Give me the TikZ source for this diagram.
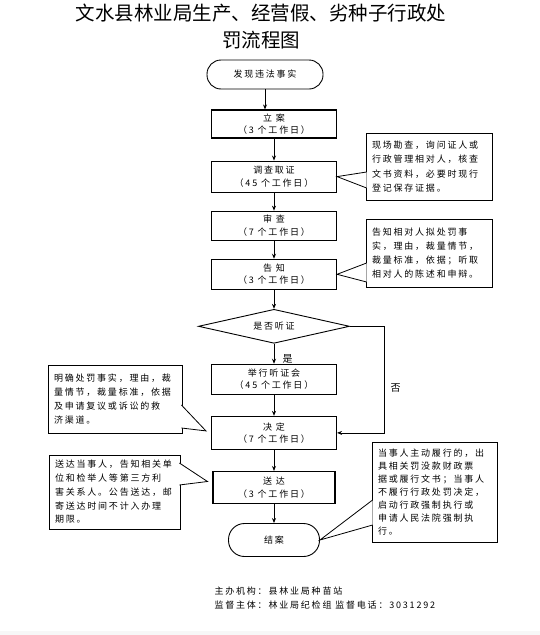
\documentclass[tikz,border=0pt]{standalone}
\usepackage{fontspec}
\setmainfont{Noto Sans CJK SC}
\newfontfamily\spaced[LetterSpace=20]{Noto Sans CJK SC}
\usepackage{tikz}
\usetikzlibrary{arrows.meta,positioning,calc,shapes.geometric,shadows}
\definecolor{ink}{HTML}{000000}
\definecolor{inksoft}{HTML}{505050}
\definecolor{pagebd}{HTML}{F7F7F7}
\tikzset{
  stepbox/.style={rectangle,draw=ink,line width=1.1pt,fill=white,text=ink,align=center,
    font=\spaced\fontsize{9}{12.5}\selectfont,
    minimum width=125pt,minimum height=30pt,inner sep=2pt},
  endbox/.style={stepbox,line width=0.9pt},
  askbox/.style={diamond,draw=ink,line width=0.9pt,fill=white,text=ink,aspect=4.4,
    minimum width=151pt,minimum height=34pt,inner sep=0pt,
    font=\spaced\fontsize{9}{12.5}\selectfont},
  notebox/.style={rectangle,draw=ink,line width=0.8pt,fill=white,text=ink,align=left,
    font=\spaced\fontsize{9}{14}\selectfont,inner xsep=6pt,inner ysep=4pt,
    drop shadow={shadow xshift=1.2pt,shadow yshift=-1.2pt,fill=inksoft,opacity=1}},
  notetip/.style={draw=ink,line width=0.8pt,fill=white},
  flowarr/.style={-{Stealth[length=5pt,width=4pt]},line width=0.8pt,color=ink},
  flowlabel/.style={font=\fontsize{10}{12}\selectfont,text=ink},
}

\begin{document}
\begin{tikzpicture}[x=1pt,y=-1pt,node distance=20pt]
  \useasboundingbox (0,0) rectangle (540,635);
  \fill[pagebd] (0,631) rectangle (540,635);

  \node[font=\fontsize{19.5}{27}\selectfont,align=center] (title) at (261,26.5)
    {文水县林业局生产、经营假、劣种子行政处\\罚流程图};

  \node[endbox,minimum width=116pt,minimum height=29pt,rounded corners=14pt] (found) at (265,74.5) {发现违法事实};
  \node[stepbox,minimum height=28pt,below=20pt of found,xshift=9pt] (filing) {立\ 案\\（3 个工作日）};
  \node[stepbox,minimum height=31pt,below=22pt of filing] (probe) {调查取证\\（45 个工作日）};
  \node[stepbox,minimum height=29pt,below=18pt of probe] (review) {审\ 查\\（7 个工作日）};
  \node[stepbox,below=18pt of review] (notify) {告\ 知\\（3 个工作日）};
  \node[askbox,below=19pt of notify] (hearq) {是否听证};
  \node[stepbox,below=20pt of hearq] (hearing) {举行听证会\\（45 个工作日）};
  \node[stepbox,minimum height=33pt,below=21pt of hearing] (decide) {决\ 定\\（7 个工作日）};
  \node[stepbox,minimum height=32pt,minimum width=122pt,below=21pt of decide] (deliver) {送\ 达\\（3 个工作日）};
  \node[endbox,minimum width=91pt,minimum height=33pt,rounded corners=16pt,below=19pt of deliver] (closed) {结案};

  \node[notebox,text width=114pt,minimum height=67pt,font=\spaced\fontsize{9}{14.5}\selectfont] (probenote) at (429,166.5)
    {现场勘查，询问证人或\\行政管理相对人，核查\\文书资料，必要时现行\\登记保存证据。};
  \node[notebox,text width=114pt,minimum height=68pt] (notifynote) at (429,253)
    {告知相对人拟处罚事\\实，理由，裁量情节，\\裁量标准，依据；听取\\相对人的陈述和申辩。};
  \node[notebox,text width=122pt,minimum height=68pt] (decidenote) at (115,399)
    {明确处罚事实，理由，裁\\量情节，裁量标准，依据\\及申请复议或诉讼的救\\济渠道。};
  \node[notebox,text width=119pt,minimum height=74pt,font=\spaced\fontsize{9}{13.75}\selectfont] (delivernote) at (114.5,492)
    {送达当事人，告知相关单\\位和检举人等第三方利\\害关系人。公告送达，邮\\寄送达时间不计入办理\\期限。};
  \node[notebox,text width=113pt,minimum height=100pt,font=\spaced\fontsize{9}{13}\selectfont] (closenote) at (434.5,492)
    {当事人主动履行的，出\\具相关罚没款财政票\\据或履行文书；当事人\\不履行行政处罚决定，\\启动行政强制执行或\\申请人民法院强制执\\行。};

  \draw[notetip] ($(probenote.west)+(1,5.5)$) -- (probe.east) -- ($(probenote.west)+(1,21.5)$);
  \draw[notetip] ($(notifynote.west)+(1,10)$) -- (notify.east) -- ($(notifynote.west)+(1,29)$);
  \draw[notetip] ($(decidenote.east)+(-1,6)$) -- ($(decide.west)+(-5,-2)$) -- ($(decidenote.east)+(-1,29)$);
  \draw[notetip] ($(delivernote.east)+(-1,-29)$) -- ($(deliver.west)+(-5,-6)$) -- ($(delivernote.east)+(-1,-7)$);
  \draw[notetip] ($(closenote.west)+(1,8)$) -- (closed.east) -- ($(closenote.west)+(1,33)$);

  \draw[flowarr] (found) -- (found |- filing.north);
  \draw[flowarr] (filing) -- (probe);
  \draw[flowarr] (probe) -- (review);
  \draw[flowarr] (review) -- (notify);
  \draw[flowarr] (notify) -- (hearq);
  \draw[flowarr] (hearq) -- (hearing) node[pos=0.75,right=5pt,flowlabel]{是};
  \draw[flowarr] (hearing) -- (decide);
  \draw[flowarr] (decide) -- (deliver);
  \draw[flowarr] (deliver) -- (closed);
  \draw[flowarr] (hearq.east) -- ++(34,0) |- (decide.east)
    node[pos=0.29,right=3pt,flowlabel]{否};

  \node[anchor=west,align=left,font=\spaced\fontsize{9}{14}\selectfont] (footer) at (211,598)
    {主办机构：县林业局种苗站\\监督主体：林业局纪检组 监督电话：3031292};
\end{tikzpicture}
\end{document}
